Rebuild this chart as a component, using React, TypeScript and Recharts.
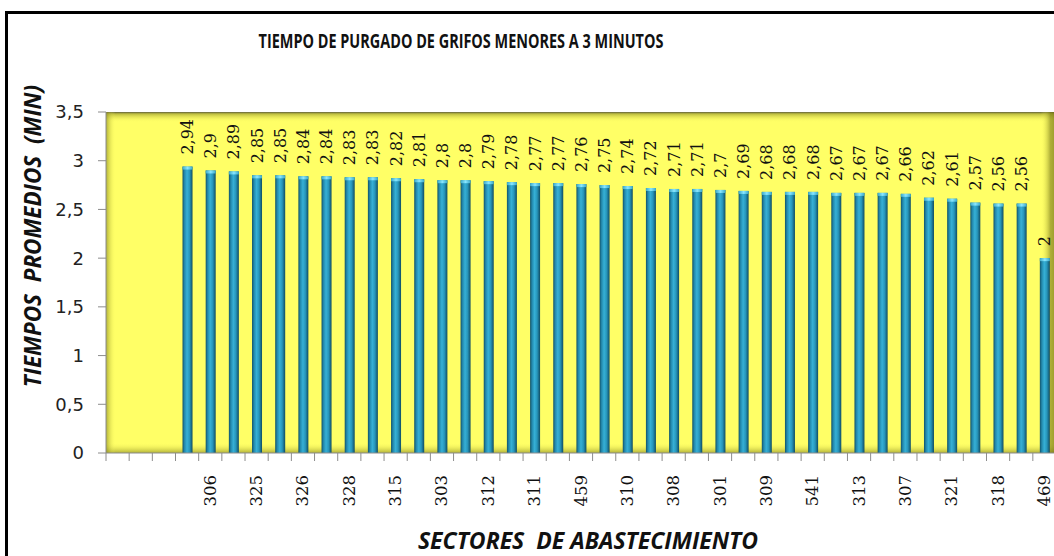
import { BarChart, Bar, XAxis, YAxis, CartesianGrid, LabelList } from 'recharts';

// sectors (only every other one is labelled in the source picture)
const sectors = [
    '', '', '',
    '', '306', '', '325', '', '326', '', '328', '', '315', '', '303', '', '312', '', '311',
    '', '459', '', '310', '', '308', '', '301', '', '309', '', '541', '', '313', '', '307',
    '', '321', '', '318', '', '469',
];

const tiempos: (number | null)[] = [
    null, null, null,
    2.94, 2.9, 2.89, 2.85, 2.85, 2.84, 2.84, 2.83, 2.83, 2.82, 2.81, 2.8, 2.8, 2.79, 2.78, 2.77,
    2.77, 2.76, 2.75, 2.74, 2.72, 2.71, 2.71, 2.7, 2.69, 2.68, 2.68, 2.68, 2.67, 2.67, 2.67, 2.66,
    2.62, 2.61, 2.57, 2.56, 2.56, 2,
];

const yTicks = [0, 0.5, 1, 1.5, 2, 2.5, 3, 3.5];

const CHART_W = 1070;
const CHART_H = 580;
const MARGIN = { top: 112, right: 14, bottom: 97, left: 46 };
const Y_AXIS_W = 60;
const PLOT_W = CHART_W - MARGIN.left - Y_AXIS_W - MARGIN.right;

const data = sectors.map((s, i) => ({ sector: s, value: tiempos[i] }));
const band = PLOT_W / data.length;

const fmt = (v: number) => String(v).replace('.', ',');

const XTick = (props: any) => {
    const { x, y, payload, index } = props;
    const left = x - band / 2;
    return (
        <g>
            <line x1={left} y1={y} x2={left} y2={y + 8} stroke="#8c8c8c" />
            {index === data.length - 1 && (
                <line x1={x + band / 2} y1={y} x2={x + band / 2} y2={y + 8} stroke="#8c8c8c" />
            )}
            {payload.value ? (
                <text
                    x={x}
                    y={y + 22}
                    transform={`rotate(-90 ${x} ${y + 22})`}
                    textAnchor="end"
                    dominantBaseline="central"
                    fontFamily="DejaVu Serif"
                    fontSize={16.5}
                    fill="#111"
                >
                    {payload.value}
                </text>
            ) : null}
        </g>
    );
};

const ValueLabel = (props: any) => {
    const { x, y, width, value } = props;
    if (value === null || value === undefined) return null;
    const cx = x + width / 2;
    const ty = y - 12;
    return (
        <text
            x={cx}
            y={ty}
            transform={`rotate(-90 ${cx} ${ty})`}
            textAnchor="start"
            dominantBaseline="central"
            fontFamily="DejaVu Serif"
            fontSize={16}
            fill="#111"
        >
            {fmt(value)}
        </text>
    );
};

const Cylinder = (props: any) => {
    const { x, y, width, height } = props;
    if (!height || height <= 0) return null;
    return (
        <g>
            <rect x={x} y={y} width={width} height={height} fill="url(#barGrad)" />
            <rect x={x} y={y} width={width} height={3} fill="url(#capGrad)" />
        </g>
    );
};

export default function App() {
    return (
        <div style={{ position: 'fixed', left: 0, top: 0, width: 1054, height: 556, overflow: 'hidden', background: '#fff' }}>
            <div style={{ position: 'absolute', left: 5, top: 11, width: 1100, height: 620, border: '3px solid #000', boxSizing: 'border-box' }} />
            <div style={{ position: 'absolute', left: 0, top: 0 }}>
                <BarChart width={CHART_W} height={CHART_H} data={data} margin={MARGIN} barSize={10}>
                    <defs>
                        <linearGradient id="barGrad" x1="0" y1="0" x2="1" y2="0">
                            <stop offset="0" stopColor="#115268" />
                            <stop offset="0.2" stopColor="#2389ad" />
                            <stop offset="0.45" stopColor="#36b0d6" />
                            <stop offset="0.7" stopColor="#2796bb" />
                            <stop offset="1" stopColor="#104c62" />
                        </linearGradient>
                        <linearGradient id="capGrad" x1="0" y1="0" x2="1" y2="0">
                            <stop offset="0" stopColor="#3aa9c8" />
                            <stop offset="0.5" stopColor="#8ae6ff" />
                            <stop offset="1" stopColor="#3aa9c8" />
                        </linearGradient>
                        <linearGradient id="plotV" x1="0" y1="0" x2="0" y2="1">
                            <stop offset="0" stopColor="#4a4a3a" stopOpacity={0.9} />
                            <stop offset="0.006" stopColor="#8a8a20" stopOpacity={0.55} />
                            <stop offset="0.03" stopColor="#ffff66" stopOpacity={0} />
                            <stop offset="0.97" stopColor="#ffff66" stopOpacity={0} />
                            <stop offset="1" stopColor="#7a7a18" stopOpacity={0.6} />
                        </linearGradient>
                        <linearGradient id="plotH" x1="0" y1="0" x2="1" y2="0">
                            <stop offset="0" stopColor="#7a7a18" stopOpacity={0.6} />
                            <stop offset="0.01" stopColor="#ffff66" stopOpacity={0} />
                            <stop offset="0.984" stopColor="#ffff66" stopOpacity={0} />
                            <stop offset="0.994" stopColor="#7a7a18" stopOpacity={0.6} />
                            <stop offset="1" stopColor="#6a6a10" stopOpacity={0.7} />
                        </linearGradient>
                    </defs>
                    <CartesianGrid horizontal={false} vertical={false} fill="#ffff66" fillOpacity={1} />
                    <CartesianGrid horizontal={false} vertical={false} fill="url(#plotV)" fillOpacity={1} />
                    <CartesianGrid horizontal={false} vertical={false} fill="url(#plotH)" fillOpacity={1} />
                    <XAxis
                        dataKey="sector"
                        interval={0}
                        tickLine={false}
                        tickSize={0}
                        tickMargin={0}
                        height={30}
                        axisLine={{ stroke: '#8c8c8c' }}
                        tick={<XTick />}
                    />
                    <YAxis
                        width={Y_AXIS_W}
                        domain={[0, 3.5]}
                        ticks={yTicks}
                        tickFormatter={fmt}
                        tickSize={8}
                        tickMargin={14}
                        axisLine={{ stroke: '#8c8c8c' }}
                        tickLine={{ stroke: '#8c8c8c' }}
                        tick={{ fontFamily: 'DejaVu Sans', fontSize: 18, fill: '#222' }}
                    />
                    <Bar dataKey="value" shape={<Cylinder />} isAnimationActive={false}>
                        <LabelList dataKey="value" content={<ValueLabel />} />
                    </Bar>
                </BarChart>
            </div>
            <div style={{ position: 'absolute', left: 461, top: 41, transform: 'translate(-50%, -50%) scaleX(0.76)', whiteSpace: 'nowrap', fontFamily: 'Open Sans', fontWeight: 700, fontSize: 19, color: '#111' }}>
                TIEMPO DE PURGADO DE GRIFOS MENORES A 3 MINUTOS
            </div>
            <div style={{ position: 'absolute', left: 32, top: 236, transform: 'translate(-50%, -50%) rotate(-90deg)', whiteSpace: 'pre', fontFamily: 'Open Sans', fontWeight: 700, fontStyle: 'italic', fontSize: 22.5, color: '#111' }}>
                {'TIEMPOS  PROMEDIOS  (MIN)'}
            </div>
            <div style={{ position: 'absolute', left: 588, top: 540, transform: 'translate(-50%, -50%)', whiteSpace: 'pre', fontFamily: 'Open Sans', fontWeight: 700, fontStyle: 'italic', fontSize: 23, color: '#111' }}>
                {'SECTORES  DE ABASTECIMIENTO'}
            </div>
        </div>
    );
}
